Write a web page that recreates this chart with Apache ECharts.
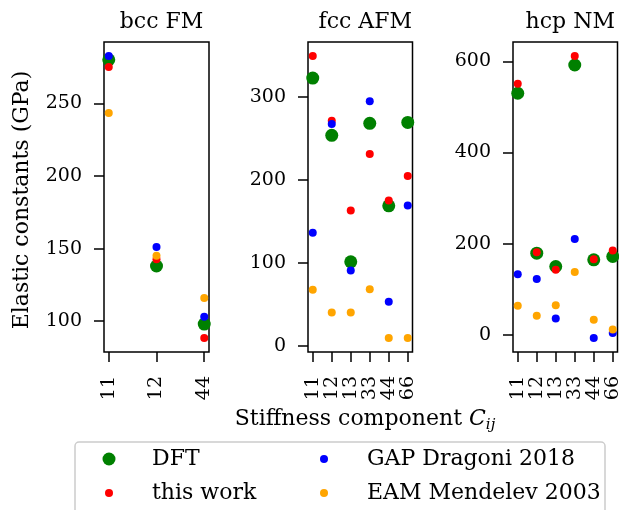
<!DOCTYPE html>
<html>
<head>
<meta charset="utf-8">
<script src="https://cdn.jsdelivr.net/npm/echarts@6/dist/echarts.min.js"></script>
<style>
  html, body { margin: 0; padding: 0; background: #fff; }
  #chart { width: 619px; height: 510px; }
</style>
</head>
<body>
<div id="chart"></div>
<script>
  const panelTitles = ['bcc FM', 'fcc AFM', 'hcp NM'];
  const seriesNames = ['DFT', 'this work', 'GAP Dragoni 2018', 'EAM Mendelev 2003'];

  const bccCategories = ['11', '12', '44'];
  const fccCategories = ['11', '12', '13', '33', '44', '66'];
  const hcpCategories = ['11', '12', '13', '33', '44', '66'];

  const bccTicks = [100, 150, 200, 250];
  const fccTicks = [0, 100, 200, 300];
  const hcpTicks = [0, 200, 400, 600];

  const bccDft = [280, 138, 98];
  const bccThisWork = [275, 142.6, 88.5];
  const bccGap = [282.5, 151, 103];
  const bccEam = [243.4, 145, 116];

  const fccDft = [322.5, 253.5, 101, 268, 168.5, 269];
  const fccThisWork = [349, 271, 163, 231, 175, 204.6];
  const fccGap = [136, 267, 90.6, 294.5, 53, 169];
  const fccEam = [67.4, 40, 40, 68, 9.3, 9.3];

  const hcpDft = [530, 179.3, 150, 592, 164.7, 172];
  const hcpThisWork = [551, 181.5, 143, 611.5, 166, 185];
  const hcpGap = [133, 122.5, 35.7, 210.6, -6.6, 4.4];
  const hcpEam = [64, 42, 65, 138, 33.5, 11.6];

  const font = 'DejaVu Serif';
  const colors = ['#008000', '#ff0000', '#0000ff', '#ffa500'];
  const sizes = [13, 8, 8, 8];

  const panels = [
    { cats: bccCategories, ticks: bccTicks, values: [bccDft, bccThisWork, bccGap, bccEam], left: 104, width: 105 },
    { cats: fccCategories, ticks: fccTicks, values: [fccDft, fccThisWork, fccGap, fccEam], left: 308, width: 104.5 },
    { cats: hcpCategories, ticks: hcpTicks, values: [hcpDft, hcpThisWork, hcpGap, hcpEam], left: 513, width: 104.5 }
  ];

  // 5% margins like matplotlib autoscale
  const yLimits = (values) => {
    const all = [].concat(...values);
    const lo = Math.min(...all), hi = Math.max(...all);
    const m = (hi - lo) * 0.05;
    return [lo - m, hi + m];
  };

  var myChart = echarts.init(document.getElementById('chart'), null, { renderer: 'canvas' });
  var option;

  const grids = [], xAxes = [], yAxes = [], series = [], titles = [];
  panels.forEach((p, i) => {
    const n = p.cats.length;
    const idx = p.cats.map((c, k) => k);
    const lim = yLimits(p.values);
    grids.push({
      left: p.left, top: 42, width: p.width, height: 310,
      outerBoundsMode: 'none', containLabel: false,
      show: true, borderColor: '#000', borderWidth: 1.5, backgroundColor: 'transparent'
    });
    xAxes.push({
      gridIndex: i, type: 'value', position: 'bottom',
      min: -0.05 * (n - 1), max: (n - 1) * 1.05,
      axisLine: { show: false, onZero: false },
      splitLine: { show: false },
      axisTick: { show: true, length: 10, customValues: idx, lineStyle: { color: '#000', width: 1.5 } },
      axisLabel: {
        customValues: idx, rotate: 90, margin: 24, hideOverlap: false,
        showMinLabel: true, showMaxLabel: true,
        formatter: (v) => p.cats[Math.round(v)],
        fontFamily: font, fontSize: 19, color: '#000'
      }
    });
    yAxes.push({
      gridIndex: i, type: 'value', position: 'left',
      min: lim[0], max: lim[1],
      axisLine: { show: false, onZero: false },
      splitLine: { show: false },
      axisTick: { show: true, length: 10, customValues: p.ticks, lineStyle: { color: '#000', width: 1.5 } },
      axisLabel: { customValues: p.ticks, margin: 22, align: 'right', fontFamily: font, fontSize: 19, color: '#000' }
    });
    titles.push({
      text: panelTitles[i],
      left: p.left + p.width / 2, top: 6, textAlign: 'center',
      textStyle: { fontFamily: font, fontSize: 22, fontWeight: 'normal', color: '#000' }
    });
    p.values.forEach((vals, s) => {
      series.push({
        type: 'scatter', name: seriesNames[s],
        xAxisIndex: i, yAxisIndex: i,
        symbol: 'circle', symbolSize: sizes[s],
        itemStyle: { color: colors[s], opacity: 1 },
        emphasis: { disabled: true },
        data: vals.map((v, k) => [k, v])
      });
    });
  });

  titles.push({
    text: '{n|Stiffness component }{c|C}{s|ij}',
    left: 360, top: 400, textAlign: 'center',
    textStyle: {
      fontWeight: 'normal',
      rich: {
        n: { fontFamily: font, fontSize: 22, fontWeight: 'normal', color: '#000', lineHeight: 28 },
        c: { fontFamily: font, fontSize: 22, fontWeight: 'normal', fontStyle: 'italic', color: '#000', lineHeight: 28 },
        s: { fontFamily: font, fontSize: 15, fontWeight: 'normal', fontStyle: 'italic', color: '#000', lineHeight: 14, verticalAlign: 'bottom' }
      }
    }
  });

  // icon centres: x 109 / 324, rows y 459 / 493
  const legendCentres = [[109, 459], [109, 493], [324, 459], [324, 493]];
  const legends = seriesNames.map((name, s) => ({
    data: [name],
    padding: 0,
    left: legendCentres[s][0] - sizes[s] / 2,
    top: legendCentres[s][1] - 13,
    icon: 'circle', itemWidth: sizes[s], itemHeight: sizes[s],
    selectedMode: false,
    formatter: (t) => '{g|}' + t,
    textStyle: {
      fontFamily: font, fontSize: 22, color: '#000', lineHeight: 26,
      rich: { g: { width: 43 - sizes[s] / 2 - 5 } }
    }
  }));

  option = {
    animation: false,
    backgroundColor: '#fff',
    title: titles,
    legend: legends,
    grid: grids,
    xAxis: xAxes,
    yAxis: yAxes,
    series: series,
    graphic: [{
      type: 'rect', z: -1,
      shape: { x: 75, y: 442, width: 530, height: 90, r: 4 },
      style: { fill: '#fff', stroke: '#cccccc', lineWidth: 1.5 }
    }, {
      type: 'text', x: 22, y: 200, rotation: Math.PI / 2,
      style: {
        text: 'Elastic constants (GPa)', align: 'center', verticalAlign: 'middle',
        fontFamily: font, fontSize: 22, fill: '#000'
      }
    }]
  };
  option && myChart.setOption(option);
</script>
</body>
</html>
